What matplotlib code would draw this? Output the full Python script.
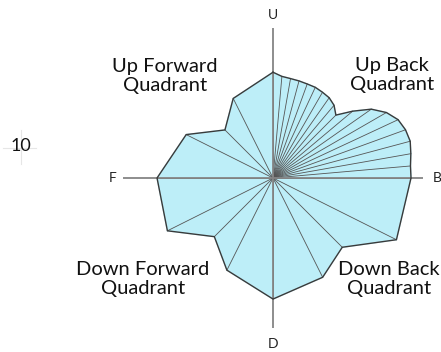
import numpy as np
import matplotlib.pyplot as plt
from matplotlib.lines import Line2D

plt.rcParams['font.family'] = ['Lato', 'DejaVu Sans']

# Directions are degrees clockwise from Up (U=0, B=90, D=180, F=270)
# Up Back quadrant is sampled every 5 degrees
up_back_deg = [0, 5, 10, 15, 20, 25, 30, 35, 40, 45, 50, 55, 60, 65, 70, 75, 80, 85, 90]
up_back_val = [7.05, 6.8, 6.73, 6.7, 6.67, 6.67, 6.6, 6.53, 6.33, 5.93,
               6.93, 8.0, 8.73, 9.2, 9.4, 9.47, 9.33, 9.2, 9.2]

down_back_deg = [116.57, 135, 153.43, 180]
down_back_val = [9.2, 6.53, 7.4, 8.07]

down_forward_deg = [206.57, 225, 243.43, 270]
down_forward_val = [6.87, 5.53, 7.87, 7.73]

up_forward_deg = [296.57, 315, 333.43]
up_forward_val = [6.47, 4.53, 5.93]

axis_max = 10
axis_labels = ['U', 'B', 'D', 'F']
quadrant_labels = ['Up Forward\nQuadrant', 'Up Back\nQuadrant',
                   'Down Forward\nQuadrant', 'Down Back\nQuadrant']

deg = np.array(up_back_deg + down_back_deg + down_forward_deg + up_forward_deg)
val = np.array(up_back_val + down_back_val + down_forward_val + up_forward_val)
theta = np.deg2rad(deg)

W, H = 441, 352
fig = plt.figure(figsize=(W / 100, H / 100), dpi=100)

# polar axes centred on the chart, radius 150 px
cx, cy, R = 273, 178, 150
ax = fig.add_axes([(cx - R) / W, (H - cy - R) / H, 2 * R / W, 2 * R / H], projection='polar')
ax.set_theta_zero_location('N')
ax.set_theta_direction(-1)
ax.set_ylim(0, axis_max)
ax.grid(False)
ax.set_xticks([])
ax.set_yticks([])
ax.spines['polar'].set_visible(False)
ax.patch.set_alpha(0)

# filled shape
th_closed = np.append(theta, theta[0])
val_closed = np.append(val, val[0])
ax.fill(th_closed, val_closed, color='#bdeef8', zorder=1)

# spokes from the centre to every point
for t, v in zip(theta, val):
    ax.plot([t, t], [0, v], color='#555555', lw=0.6, zorder=2)

# U/B/D/F axis lines
for a in [0, 90, 180, 270]:
    ax.plot([np.deg2rad(a)] * 2, [0, axis_max], color='#858585', lw=1.3, zorder=3)

ax.plot(th_closed, val_closed, color='#3a3a3a', lw=1.0, zorder=4)

# axis end labels
for a, lab, r in zip([0, 90, 180, 270], axis_labels, [10.85, 10.95, 11.1, 10.7]):
    ax.text(np.deg2rad(a), r, lab, ha='center', va='center', fontsize=10, color='#222222',
            clip_on=False)

# quadrant labels (figure pixel positions)
quad_pos = [(165, 76), (392, 75), (143, 279), (389, 279)]
for (px, py), lab in zip(quad_pos, quadrant_labels):
    fig.text(px / W, 1 - py / H, lab, ha='center', va='center', fontsize=14.5,
             linespacing=1.2, color='#111111')

# stray "10" label with its faint crosshair
fig.text(21 / W, 1 - 146 / H, '10', ha='center', va='center', fontsize=13, color='#111111')
fig.add_artist(Line2D([3 / W, 36 / W], [1 - 148 / H] * 2, color='#e6e6e6', lw=0.8))
fig.add_artist(Line2D([21 / W] * 2, [1 - 130 / H, 1 - 164 / H], color='#e6e6e6', lw=0.8))

fig.savefig('out.png', dpi=100, facecolor='white')
